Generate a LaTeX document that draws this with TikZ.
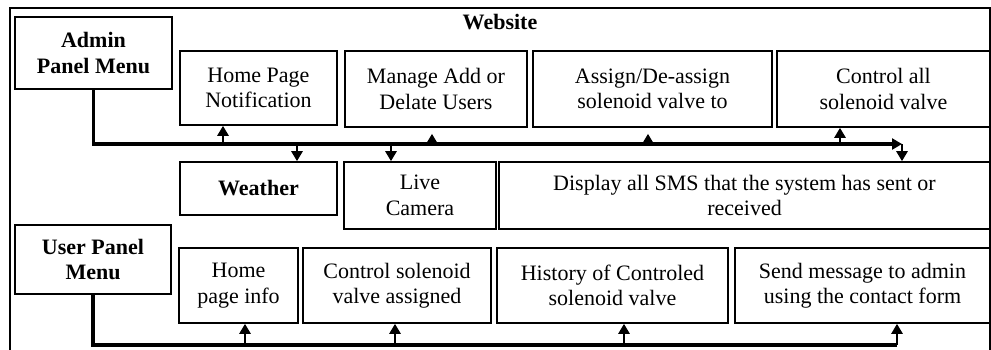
\documentclass[tikz,border=0pt]{standalone}
\usepackage{fontspec}
\setmainfont{Liberation Serif}
\usetikzlibrary{positioning, arrows.meta}
\newcommand{\stdarrow}{-{Triangle[length=10pt,width=11pt]}}
\newcommand{\boxfont}{\fontsize{22}{25.5}\selectfont}
\newcommand{\adminbus}{144}
\newcommand{\userbus}{345}
\tikzset{
  itembox/.style={draw, line width=1.6pt, align=center, inner sep=0pt, font=\boxfont},
  menubox/.style={itembox, font=\boxfont\bfseries},
  bus/.style={line width=3.4pt},
  stem/.style={line width=2.8pt},
}

\begin{document}
\begin{tikzpicture}[x=1pt, y=-1pt]
        \useasboundingbox (0,0) rectangle (991,349);
        \draw[line width=1.4pt] (10,360) |- (990,8) -- (990,360);
        \node[font=\boxfont\bfseries] (website) at (500,22) {Website};

        \node[menubox, minimum width=157pt, minimum height=72pt] (admin) at (93.5,53) {Admin\\Panel Menu};
        \node[itembox, minimum width=157pt, minimum height=74pt] (home) at (258.5,88) {Home Page\\Notification};
        \node[itembox, minimum width=182pt, minimum height=76pt] (manage) at (436,89) {Manage Add or\\Delate Users};
        \node[itembox, minimum width=239pt, minimum height=76pt] (assign) at (652.5,89) {Assign/De-assign\\solenoid valve to};
        \node[itembox, minimum width=213pt, minimum height=76pt] (control) at (883.5,89) {Control all\\solenoid valve};

        \node[itembox, minimum width=157pt, minimum height=53pt, font=\boxfont\bfseries] (weather) at (258.5,188.5) {Weather};
        \node[itembox, minimum width=152pt, minimum height=67pt] (camera) at (420,195.5) {Live\\Camera};
        \node[itembox, minimum width=491pt, minimum height=67pt] (sms) at (744.5,195.5) {Display all SMS that the system has sent or\\received};

        \node[menubox, minimum width=156pt, minimum height=69pt] (user) at (93,259.5) {User Panel\\Menu};
        \node[itembox, minimum width=119pt, minimum height=75pt] (info) at (238.5,285.5) {Home\\page info};
        \node[itembox, minimum width=188pt, minimum height=75pt] (assigned) at (397,285.5) {Control solenoid\\valve assigned};
        \node[itembox, minimum width=231pt, minimum height=75pt] (history) at (612.5,285.5) {History of Controled\\solenoid valve};
        \node[itembox, minimum width=255pt, minimum height=75pt] (contact) at (862.5,285.5) {Send message to admin\\using the contact form};

        \coordinate (aend) at (902,\adminbus);
        \coordinate (a1) at (223,\adminbus);
        \coordinate (a2) at (297,\adminbus);
        \coordinate (a3) at (391,\adminbus);
        \coordinate (a4) at (432,\adminbus);
        \coordinate (a5) at (648,\adminbus);
        \coordinate (a6) at (840,\adminbus);
        \draw[bus, \stdarrow] (admin.south) |- (aend);
        \draw[stem, \stdarrow] (a1) -- (a1 |- home.south);
        \draw[stem, \stdarrow] (a2) -- (a2 |- weather.north);
        \draw[stem, \stdarrow] (a3) -- (a3 |- camera.north);
        \draw[stem, \stdarrow, shorten >=6pt] (a4) -- (a4 |- manage.south);
        \draw[stem, \stdarrow, shorten >=6pt] (a5) -- (a5 |- assign.south);
        \draw[stem, \stdarrow] (a6) -- (a6 |- control.south);
        \draw[stem, \stdarrow] (aend) -- (aend |- sms.north);

        \coordinate (u1) at (245,\userbus);
        \coordinate (u2) at (395,\userbus);
        \coordinate (u3) at (624,\userbus);
        \coordinate (u4) at (897,\userbus);
        \draw[bus] (user.south) |- (u4);
        \draw[stem, \stdarrow] (u1) -- (u1 |- info.south);
        \draw[stem, \stdarrow] (u2) -- (u2 |- assigned.south);
        \draw[stem, \stdarrow] (u3) -- (u3 |- history.south);
        \draw[stem, \stdarrow] (u4) -- (u4 |- contact.south);
    \end{tikzpicture}
\end{document}
